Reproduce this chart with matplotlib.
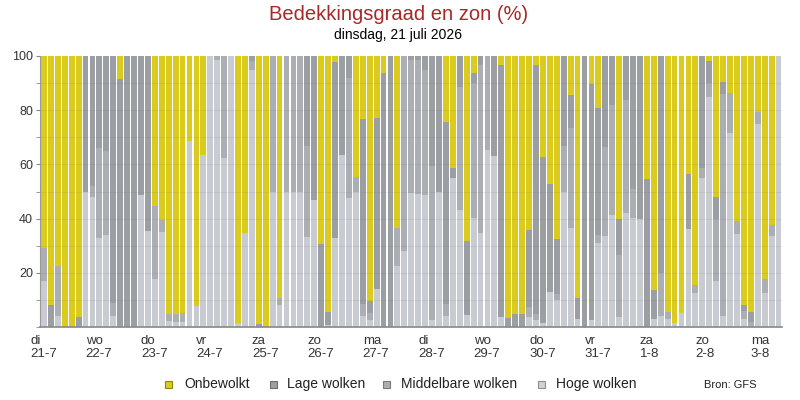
import matplotlib.pyplot as plt
from matplotlib.patches import Rectangle
import matplotlib.transforms as mtransforms
import numpy as np

# cloud cover per 3-hour step, percent (hoge / middelbare / lage), zon = rest
hoge = [17, 0, 4, 0, 0, 0, 50, 48, 33, 34, 4, 0, 0, 0, 48.6, 35.4, 17.6,
        35, 2.3, 1.8, 2, 68.6, 7.7, 63.5, 100, 98.6, 62.4, 100, 1.6, 34.7, 95, 0, 0, 50,
        8.2, 50, 50, 50, 33.2, 47, 0, 0.6, 32.8, 63.5, 47.7, 50, 4, 2.5, 14, 0, 0, 22.5,
        28, 49.6, 49.2, 48.6, 2.5, 50, 4, 55, 43.3, 4.6, 40.3, 34.7, 65.4, 63, 3.8, 0, 0,
        0, 3.7, 2.7, 1.6, 13, 10, 50, 36.5, 3, 0, 2.7, 31, 33.5, 41.2, 3.7, 42, 40.3, 40,
        0, 3, 4, 3, 1.5, 5, 36, 12.5, 55, 85, 17, 4, 71.5, 34.5, 3, 0, 75, 12.7, 33.5, 100]
middel = [12, 0, 18.5, 0, 0, 0, 0, 4, 33, 31, 5, 0, 0, 0, 0, 0, 27,
          4.4, 2.4, 2.9, 3, 0, 0, 0, 0, 1.4, 37.6, 0, 0, 0, 3, 0, 0, 50,
          2.5, 50, 50, 50, 33.6, 0, 0, 0, 0, 0, 44.2, 5.5, 4.6, 2.7, 0, 0, 0, 14,
          72, 49, 49.4, 46.4, 56.9, 0, 4.6, 0, 45.4, 0, 49.9, 62.1, 34.6, 0, 0, 0, 0,
          0, 3.7, 2.2, 0, 0, 2.3, 16.8, 36.9, 0, 0, 0, 3, 32.9, 40.8, 23, 41.6, 10.7, 0,
          0, 0, 16, 2.5, 0, 0, 0, 3, 3.5, 5, 23, 82, 15, 4.5, 3, 2, 4.5, 5, 4, 0]
lage = [0, 8, 0, 0, 0, 3.6, 50, 48, 34, 35, 91, 91.4, 100, 100, 51.4, 64.6, 0,
        0, 0, 0, 0, 0, 0, 0, 0, 0, 0, 0, 0, 0, 2, 1, 0, 0,
        0, 0, 0, 0, 33.2, 53, 30.5, 4.9, 65, 36.5, 8.1, 0, 68.3, 4.5, 63, 93.8, 100, 0,
        0, 1.4, 1.4, 5, 40.6, 50, 67, 3.7, 11.3, 27.1, 3.6, 3.2, 0, 37, 92.9, 3.4, 4.7,
        4.7, 28.3, 91.9, 61, 39.8, 20, 33.2, 12.1, 7.7, 100, 86.8, 46.8, 33.6, 18, 13, 16.4, 49, 60,
        54.7, 10.5, 80, 0, 0, 0, 20.5, 0, 41.5, 8, 8, 4.5, 0, 0, 2, 3.5, 0, 0, 0, 0]

dagen = ["di", "wo", "do", "vr", "za", "zo", "ma", "di", "wo", "do", "vr", "za", "zo", "ma"]
datums = ["21-7", "22-7", "23-7", "24-7", "25-7", "26-7", "27-7", "28-7", "29-7",
          "30-7", "31-7", "1-8", "2-8", "3-8"]

hoge = np.array(hoge, dtype=float)
middel = np.array(middel, dtype=float)
lage = np.array(lage, dtype=float)
zon = np.clip(100 - hoge - middel - lage, 0, 100)

c_zon = "#dccb1f"
c_lage = "#9b9ea3"
c_mid = "#abaeb3"
c_hoog = "#c8ccd2"

plt.rcParams["font.family"] = ["Liberation Sans", "DejaVu Sans"]

fig = plt.figure(figsize=(8, 4), dpi=100)
ax = fig.add_axes([40 / 800, 1 - 327 / 400, 742 / 800, 271 / 400])

x = np.arange(len(hoge))
w = 0.84
ax.bar(x, hoge, width=w, color=c_hoog, linewidth=0)
ax.bar(x, middel, width=w, bottom=hoge, color=c_mid, linewidth=0)
ax.bar(x, lage, width=w, bottom=hoge + middel, color=c_lage, linewidth=0)
ax.bar(x, zon, width=w, bottom=hoge + middel + lage, color=c_zon, linewidth=0)

# faint grid on top of the bars
for yv in range(10, 100, 10):
    ax.axhline(yv, color="#707070", alpha=0.12, lw=0.8, zorder=5)

ax.set_xlim(-0.57, len(hoge) - 0.5)
ax.set_ylim(0, 100)
ax.set_yticks([20, 40, 60, 80, 100])
ax.set_yticks(range(0, 101, 10), minor=True)
ax.tick_params(axis="y", which="both", length=3, color="#888888", labelsize=9,
               labelcolor="#333333", pad=2)
ax.set_xticks([])
for s in ["top", "right"]:
    ax.spines[s].set_visible(False)
ax.spines["left"].set_color("#999999")
ax.spines["bottom"].set_color("#888888")
ax.spines["left"].set_linewidth(0.8)
ax.spines["bottom"].set_linewidth(1.2)

trans = mtransforms.blended_transform_factory(ax.transData, ax.transAxes)
for k, (d, dt) in enumerate(zip(dagen, datums)):
    ax.text(8 * k - 2.0, -0.03, d + "\n" + dt, transform=trans, ha="left", va="top",
            fontsize=9.5, color="#333333", linespacing=1.05, clip_on=False)

fig.text(0.498, 1 - 14 / 400, "Bedekkingsgraad en zon (%)", ha="center", va="center",
         fontsize=14.5, color="#a82828")
fig.text(0.4975, 1 - 35 / 400, "dinsdag, 21 juli 2026", ha="center", va="center",
         fontsize=10, color="black")

# legend
items = [("Onbewolkt", c_zon, "#8f8414", 165, 184),
         ("Lage wolken", c_lage, "#6a6d72", 270, 287),
         ("Middelbare wolken", c_mid, "#77797d", 383, 401),
         ("Hoge wolken", "#cfd2d7", "#8b8e92", 538, 556)]
for label, fc, ec, sx, tx in items:
    fig.patches.append(Rectangle((sx / 800, 1 - 388 / 400), 7 / 800, 7 / 400,
                                 transform=fig.transFigure, facecolor=fc, edgecolor=ec,
                                 linewidth=0.8))
    fig.text(tx / 800, 1 - 384 / 400, label, ha="left", va="center", fontsize=10,
             color="#222222")
fig.text(704 / 800, 1 - 385 / 400, "Bron: GFS", ha="left", va="center", fontsize=8,
         color="#222222")

fig.savefig("out.png", dpi=100)
